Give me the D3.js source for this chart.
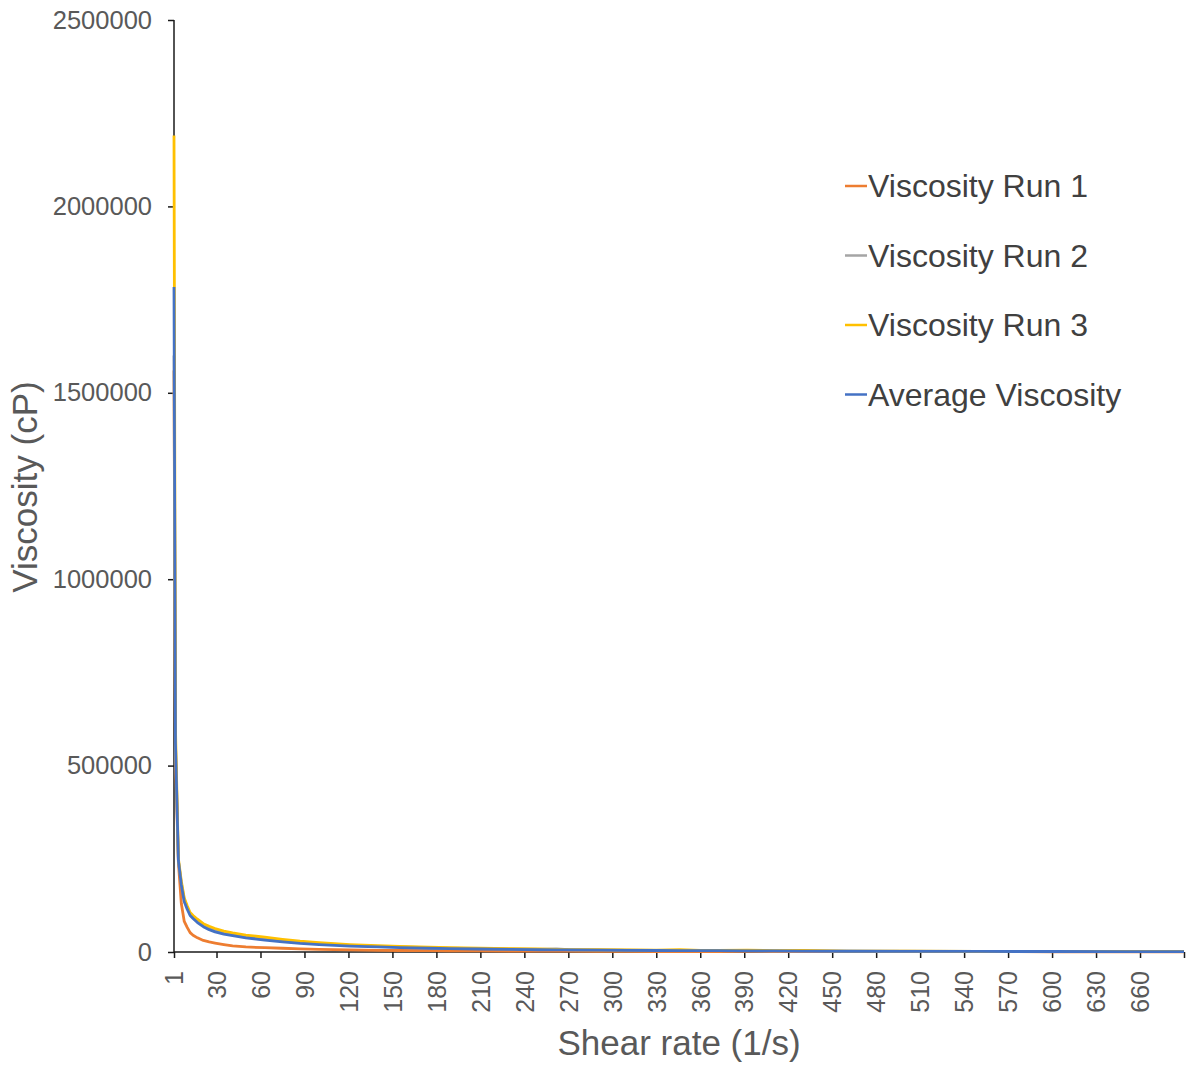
<!DOCTYPE html>
<html>
<head>
<meta charset="utf-8">
<script src="https://cdn.jsdelivr.net/npm/d3@7"></script>
<style>
  html, body { margin: 0; padding: 0; background: #fff; }
  svg { display: block; font-family: "Liberation Sans", Arial, sans-serif; }
</style>
</head>
<body>
<svg id="chart" width="1188" height="1067"></svg>
<script>
// Shear rate (1/s) at each sampled point
const shearRate = [1, 2, 4, 6, 8, 10, 12, 14, 17, 21, 25, 29, 35, 41, 50, 63, 75, 87, 100, 121,
  140, 155, 175, 189, 210, 230, 250, 262, 270, 290, 310, 330, 346, 360, 372, 392, 410, 430,
  460, 500, 550, 600, 650, 690];

// Viscosity (cP) for each run and the average
const viscosityRun1 = [1560000, 520000, 240000, 130000, 82000, 66000, 52000, 45000, 38000, 31000,
  27000, 24000, 20000, 16500, 13500, 11500, 10000, 8500, 7000, 5500, 4500, 4000, 3500, 3000,
  2800, 2500, 2300, 2200, 2100, 2000, 1900, 1200, 1000, 1100, 1300, 1500, 1400, 1200, 1000,
  900, 800, 700, 600, 500];
const viscosityRun2 = [1600000, 560000, 245000, 185000, 140000, 120000, 102000, 94000, 83000, 72000,
  64000, 58000, 52000, 47000, 41000, 36000, 30000, 26000, 22500, 18000, 15000, 13500, 11500,
  10500, 9000, 8000, 7000, 8500, 6000, 5500, 5000, 4500, 4200, 4000, 3800, 3500, 3200, 2800,
  2300, 2000, 1700, 1500, 1300, 1100];
const viscosityRun3 = [2190000, 600000, 250000, 190000, 145000, 124000, 106000, 98000, 88000, 76000,
  69000, 63000, 56000, 51000, 45000, 40000, 34000, 29000, 25000, 20000, 17000, 15000, 13000,
  11500, 10000, 9000, 8000, 7000, 6500, 6000, 5500, 5000, 6000, 4500, 4000, 4800, 3500, 4200,
  2500, 2200, 1900, 1700, 1500, 1300];
const averageViscosity = [1784000, 560000, 245000, 180000, 135000, 115000, 98000, 90000, 79000, 68000,
  60000, 54000, 48000, 44000, 38000, 32000, 27000, 23000, 20000, 16000, 13500, 12000, 10000,
  9000, 8000, 7000, 6000, 5600, 5500, 5000, 4500, 4000, 3800, 3600, 3500, 3200, 3000, 2500,
  2000, 1800, 1500, 1300, 1100, 1000];

const seriesNames = ["Viscosity Run 1", "Viscosity Run 2", "Viscosity Run 3", "Average Viscosity"];
const seriesColors = ["#ED7D31", "#A5A5A5", "#FFC000", "#4472C4"];
const seriesValues = [viscosityRun1, viscosityRun2, viscosityRun3, averageViscosity];

// Axis ticks
const xTickValues = [1, 30, 60, 90, 120, 150, 180, 210, 240, 270, 300, 330, 360, 390, 420, 450,
  480, 510, 540, 570, 600, 630, 660, 690];
const xTickLabels = ["1", "30", "60", "90", "120", "150", "180", "210", "240", "270", "300", "330",
  "360", "390", "420", "450", "480", "510", "540", "570", "600", "630", "660", ""];
const yTickValues = [0, 500000, 1000000, 1500000, 2000000, 2500000];

const svg = d3.select("#chart");
const plotLeft = 174, plotRight = 1184, plotTop = 20, plotBottom = 952;

const x = d3.scaleLinear().domain([1, 690]).range([plotLeft, plotRight]);
const y = d3.scaleLinear().domain([0, 2500000]).range([plotBottom, plotTop]);

const textColor = "#595959";
const axisColor = "#1a1a1a";

// Y axis
const yAxis = svg.append("g")
  .attr("transform", `translate(${plotLeft},0)`)
  .call(d3.axisLeft(y).tickValues(yTickValues).tickSize(6).tickPadding(16)
    .tickFormat(d3.format("d")));
yAxis.select(".domain").attr("stroke", axisColor).attr("stroke-width", 1.5)
  .attr("d", `M0,${plotTop}V${plotBottom}`);
yAxis.selectAll(".tick line").attr("stroke", axisColor).attr("stroke-width", 1.5);
yAxis.selectAll(".tick text").attr("fill", textColor).attr("font-size", 25.5)
  .attr("font-family", "'Liberation Sans', Arial, sans-serif");

// X axis
const xAxis = svg.append("g")
  .attr("transform", `translate(0,${plotBottom})`)
  .call(d3.axisBottom(x).tickValues(xTickValues).tickSize(6)
    .tickFormat((d, i) => xTickLabels[i]));
xAxis.select(".domain").attr("stroke", axisColor).attr("stroke-width", 1.5)
  .attr("d", `M${plotLeft},0H${plotRight}`);
xAxis.selectAll(".tick line").attr("stroke", axisColor).attr("stroke-width", 1.5);
xAxis.selectAll(".tick text")
  .attr("fill", textColor).attr("font-size", 25)
  .attr("font-family", "'Liberation Sans', Arial, sans-serif")
  .attr("transform", "rotate(-90)")
  .attr("text-anchor", "end")
  .attr("x", -19).attr("y", 0).attr("dy", "0.35em");

// Series lines
const line = d3.line()
  .x((d, i) => x(shearRate[i]))
  .y(d => y(d));

seriesValues.forEach((vals, k) => {
  svg.append("path")
    .datum(vals)
    .attr("fill", "none")
    .attr("stroke", seriesColors[k])
    .attr("stroke-width", 2.8)
    .attr("stroke-linejoin", "round")
    .attr("d", line);
});

// Axis titles
svg.append("text")
  .attr("x", 679).attr("y", 1055)
  .attr("text-anchor", "middle")
  .attr("fill", textColor).attr("font-size", 35)
  .text("Shear rate (1/s)");

svg.append("text")
  .attr("transform", "translate(37,487) rotate(-90)")
  .attr("text-anchor", "middle")
  .attr("fill", textColor).attr("font-size", 35)
  .text("Viscosity (cP)");

// Legend
const legend = svg.append("g").attr("transform", "translate(845,186)");
seriesNames.forEach((name, k) => {
  const row = legend.append("g").attr("transform", `translate(0,${k * 69.5})`);
  row.append("line")
    .attr("x1", 0).attr("x2", 22).attr("y1", 0).attr("y2", 0)
    .attr("stroke", seriesColors[k]).attr("stroke-width", 2.5);
  row.append("text")
    .attr("x", 23).attr("y", 0).attr("dy", "0.35em")
    .attr("fill", "#404040").attr("font-size", 32)
    .text(name);
});
</script>
</body>
</html>
